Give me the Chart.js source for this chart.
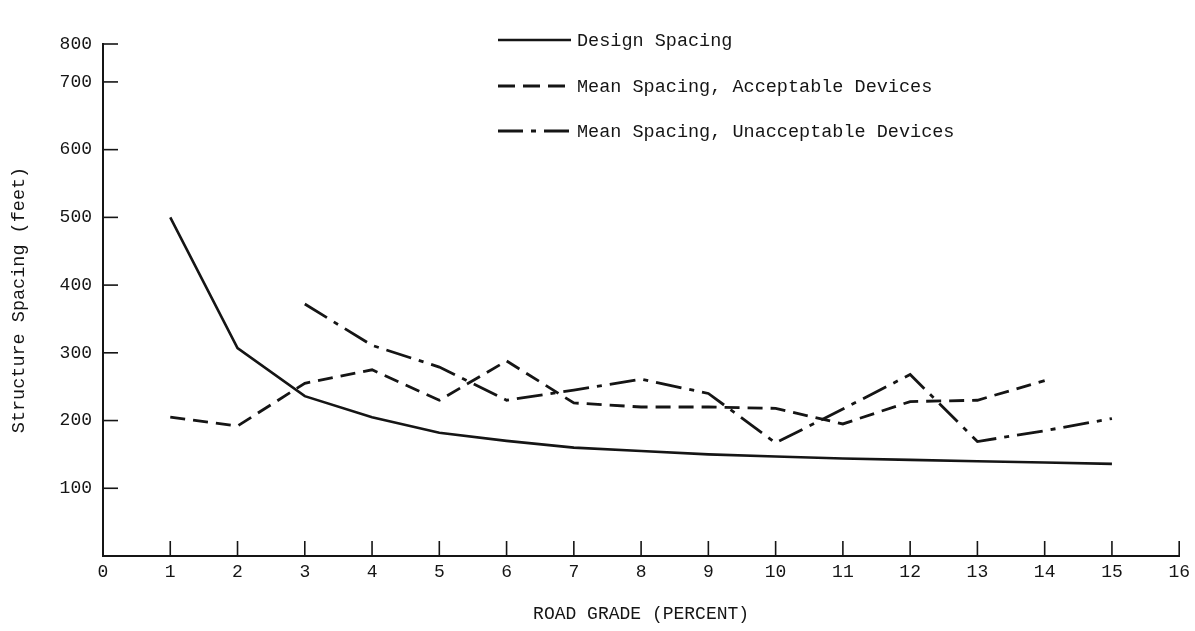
<!DOCTYPE html>
<html>
<head>
<meta charset="utf-8">
<script src="https://cdn.jsdelivr.net/npm/chart.js@4/dist/chart.umd.min.js"></script>
<style>
  html, body { margin: 0; padding: 0; background: #ffffff; }
  #wrap { width: 1195px; height: 631px; }
</style>
</head>
<body>
<div id="wrap"><canvas id="c" width="1195" height="631"></canvas></div>
<script>
// ---- data ----
const designGrades = [1, 2, 3, 4, 5, 6, 7, 8, 9, 10, 11, 12, 13, 14, 15];
const designSpacing = [500, 307, 236, 205, 182, 170, 160, 155, 150, 147, 144, 142, 140, 138, 136];

const acceptableGrades = [1, 2, 3, 4, 5, 6, 7, 8, 9, 10, 11, 12, 13, 14];
const acceptableSpacing = [205, 192, 255, 275, 230, 288, 226, 220, 220, 218, 195, 228, 230, 259];

const unacceptableGrades = [3, 4, 5, 6, 7, 8, 9, 10, 11, 12, 13, 14, 15];
const unacceptableSpacing = [372, 311, 279, 230, 245, 261, 240, 167, 217, 268, 169, 185, 203];

const xTickValues = [0, 1, 2, 3, 4, 5, 6, 7, 8, 9, 10, 11, 12, 13, 14, 15, 16];
// the original axis is truncated at the top: the "800" tick sits at the axis end
const yAxisTop = 756;
const yTickValues = [100, 200, 300, 400, 500, 600, 700, yAxisTop];
const yTickLabels = ['100', '200', '300', '400', '500', '600', '700', '800'];

const seriesLabels = ['Design Spacing', 'Mean Spacing, Acceptable Devices', 'Mean Spacing, Unacceptable Devices'];

const FONT = '"Liberation Mono", "DejaVu Sans Mono", monospace';
const INK = '#151515';

function pts(xs, ys) { return xs.map((x, i) => ({ x: x, y: ys[i] })); }

const tickMarks = {
  id: 'tickMarks',
  afterDraw(chart) {
    const { ctx, chartArea: a } = chart;
    const x = chart.scales.x, y = chart.scales.y;
    ctx.save();
    ctx.strokeStyle = INK;
    ctx.lineWidth = 1.6;
    x.ticks.forEach(t => {
      if (t.value === 0) return;
      const px = x.getPixelForValue(t.value);
      ctx.beginPath(); ctx.moveTo(px, a.bottom); ctx.lineTo(px, a.bottom - 15); ctx.stroke();
    });
    y.ticks.forEach(t => {
      const py = y.getPixelForValue(t.value);
      ctx.beginPath(); ctx.moveTo(a.left, py); ctx.lineTo(a.left + 15, py); ctx.stroke();
    });
    ctx.restore();
  }
};

const lineLegend = {
  id: 'lineLegend',
  afterDraw(chart) {
    const { ctx } = chart;
    const x0 = 498, x1 = 571, tx = 577;
    const rows = [40, 86, 131];
    ctx.save();
    chart.data.datasets.forEach((ds, i) => {
      const yy = rows[i];
      ctx.strokeStyle = ds.borderColor;
      ctx.lineWidth = ds.borderWidth;
      ctx.setLineDash(ds.legendDash || []);
      ctx.beginPath(); ctx.moveTo(x0, yy); ctx.lineTo(x1, yy); ctx.stroke();
      ctx.setLineDash([]);
      ctx.fillStyle = INK;
      ctx.font = '18.5px ' + FONT;
      ctx.textBaseline = 'middle';
      ctx.textAlign = 'left';
      ctx.fillText(ds.label, tx, yy + 1);
    });
    ctx.restore();
  }
};

new Chart(document.getElementById('c'), {
  type: 'line',
  data: {
    datasets: [
      {
        label: seriesLabels[0],
        data: pts(designGrades, designSpacing),
        borderColor: INK, borderWidth: 2.6, borderDash: [],
        legendDash: [],
        pointRadius: 0, tension: 0, fill: false
      },
      {
        label: seriesLabels[1],
        data: pts(acceptableGrades, acceptableSpacing),
        borderColor: INK, borderWidth: 2.8, borderDash: [15, 8],
        legendDash: [17, 8],
        pointRadius: 0, tension: 0, fill: false
      },
      {
        label: seriesLabels[2],
        data: pts(unacceptableGrades, unacceptableSpacing),
        borderColor: INK, borderWidth: 2.8, borderDash: [26, 8, 5, 8],
        legendDash: [25, 8, 5, 8],
        pointRadius: 0, tension: 0, fill: false
      }
    ]
  },
  options: {
    responsive: false,
    animation: false,
    layout: { padding: { left: 0, right: 15, top: 44, bottom: 0 } },
    plugins: { legend: { display: false }, tooltip: { enabled: false } },
    scales: {
      x: {
        type: 'linear',
        min: 0, max: 16,
        afterBuildTicks: s => { s.ticks = xTickValues.map(v => ({ value: v })); },
        afterFit: s => { s.height = 75; },
        grid: { drawOnChartArea: false, drawTicks: false },
        border: { display: true, color: INK, width: 2 },
        ticks: { color: INK, font: { family: FONT, size: 18 }, padding: 5, maxRotation: 0, autoSkip: false },
        title: { display: true, text: 'ROAD GRADE (PERCENT)', color: INK, font: { family: FONT, size: 18 }, padding: { top: 0, bottom: 6 } }
      },
      y: {
        type: 'linear',
        min: 0, max: yAxisTop,
        afterBuildTicks: s => { s.ticks = yTickValues.map(v => ({ value: v })); },
        afterFit: s => { s.width = 103; },
        grid: { drawOnChartArea: false, drawTicks: false },
        border: { display: true, color: INK, width: 2 },
        ticks: {
          color: INK, font: { family: FONT, size: 18 }, padding: 11, autoSkip: false,
          callback: (v) => { const i = yTickValues.indexOf(v); return i >= 0 ? yTickLabels[i] : ''; }
        },
        title: { display: true, text: 'Structure Spacing (feet)', color: INK, font: { family: FONT, size: 18.5 }, padding: { top: 8, bottom: 0 } }
      }
    }
  },
  plugins: [tickMarks, lineLegend]
});
</script>
</body>
</html>
